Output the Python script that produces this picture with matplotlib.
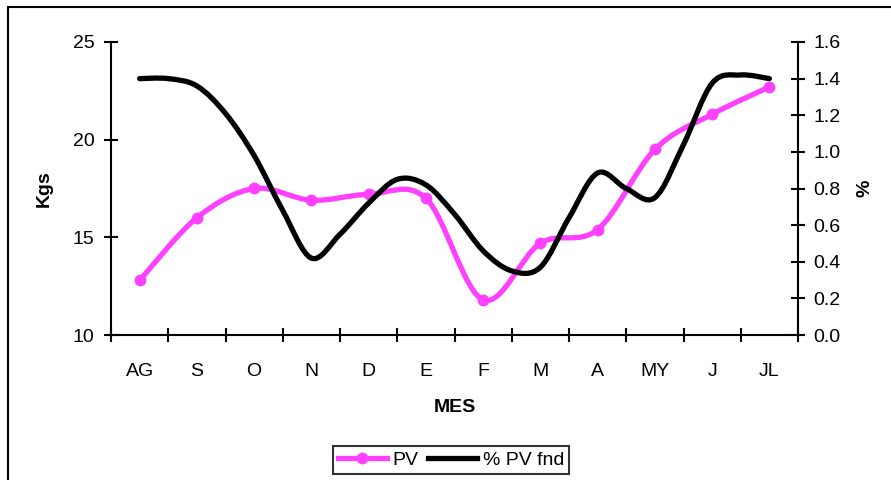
import numpy as np
import matplotlib
matplotlib.use("Agg")
import matplotlib.pyplot as plt
from matplotlib.path import Path
from matplotlib.patches import PathPatch, Rectangle
from matplotlib.lines import Line2D

plt.rcParams["font.family"] = ["Liberation Sans", "DejaVu Sans"]

# Datos
meses = ["AG", "S", "O", "N", "D", "E", "F", "M", "A", "MY", "J", "JL"]
pv_kgs = [12.8, 16.0, 17.5, 16.9, 17.2, 17.0, 11.8, 14.7, 15.4, 19.5, 21.3, 22.7]
# % PV fnd, dos lecturas por mes (quincenal)
pct_pv_fnd = [1.40, 1.40, 1.36, 1.21, 0.98, 0.68, 0.42, 0.55, 0.72, 0.85, 0.82,
              0.66, 0.46, 0.35, 0.37, 0.64, 0.885, 0.80, 0.75, 1.04, 1.375, 1.42, 1.40]


def smooth_path(x, y):
    # curva suavizada tipo Excel (Bezier cubica tipo Catmull-Rom)
    pts = np.column_stack([x, y]).astype(float)
    n = len(pts)
    verts = [pts[0]]
    codes = [Path.MOVETO]
    for i in range(n - 1):
        p0 = pts[i - 1] if i > 0 else pts[i]
        p1 = pts[i]
        p2 = pts[i + 1]
        p3 = pts[i + 2] if i + 2 < n else pts[i + 1]
        c1 = p1 + (p2 - p0) / 6.0
        c2 = p2 - (p3 - p1) / 6.0
        verts += [c1, c2, p2]
        codes += [Path.CURVE4] * 3
    return Path(verts, codes)


magenta = "#ff40ff"
fs = 14

fig = plt.figure(figsize=(8.91, 4.80), dpi=100)
ax = fig.add_axes([111 / 891, 1 - 335 / 480, 687 / 891, 293 / 480])
ax2 = ax.twinx()

# marco exterior del grafico
fig.patches.append(Rectangle((8 / 891, -0.05), 1.0, 1 - 7 / 480 + 0.05,
                             transform=fig.transFigure, fill=False,
                             edgecolor="black", linewidth=1.5))

x_pv = np.arange(len(pv_kgs))
ax.add_patch(PathPatch(smooth_path(x_pv, pv_kgs), facecolor="none",
                       edgecolor=magenta, linewidth=3.8, capstyle="round",
                       joinstyle="round", zorder=2))
ax.plot(x_pv, pv_kgs, linestyle="none", marker="o", markersize=7.5,
        color=magenta, zorder=3)

x_pct = np.arange(len(pct_pv_fnd)) / 2.0
ax2.add_patch(PathPatch(smooth_path(x_pct, pct_pv_fnd), facecolor="none",
                        edgecolor="black", linewidth=3.8, capstyle="round",
                        joinstyle="round", zorder=4))

ax.set_xlim(-0.5, len(meses) - 0.5)
ax.set_ylim(10, 25)
ax2.set_ylim(0, 1.6)
ax.set_yticks([10, 15, 20, 25])
ax2.set_yticks(np.arange(0, 1.61, 0.2))
ax2.set_yticklabels([f"{v:.1f}" for v in np.arange(0, 1.61, 0.2)])

ax.set_xticks(np.arange(-0.5, len(meses), 1.0))
ax.set_xticklabels([])
ax.set_xticks(np.arange(len(meses)), minor=True)
ax.set_xticklabels(meses, minor=True)

for a in (ax, ax2):
    a.spines["top"].set_visible(False)
    for s in a.spines.values():
        s.set_linewidth(1.5)
ax.spines["right"].set_visible(False)
ax2.spines["left"].set_visible(False)
ax2.spines["bottom"].set_visible(False)

ax.tick_params(axis="x", which="major", direction="inout", length=10, width=1.5)
ax.tick_params(axis="x", which="minor", length=0, pad=20, labelsize=fs)
ax.tick_params(axis="y", direction="inout", length=10, width=1.5, pad=7, labelsize=fs)
ax2.tick_params(axis="y", direction="inout", length=10, width=1.5, pad=6, labelsize=fs)

ax.set_ylabel("Kgs", fontsize=fs, fontweight="bold")
ax.yaxis.set_label_coords((53 - 111) / 687, 0.5)
ax2.set_ylabel("%", fontsize=fs, fontweight="bold")
ax2.yaxis.set_label_coords((857 - 111) / 687, 0.5)
ax.set_xlabel("MES", fontsize=fs, fontweight="bold")
ax.xaxis.set_label_coords(0.5, (335 - 399) / 293)

handles = [
    Line2D([], [], color=magenta, linewidth=3.8, marker="o", markersize=7.5),
    Line2D([], [], color="black", linewidth=3.8),
]
leg = fig.legend(handles, ["PV", "% PV fnd"], loc="center", ncol=2,
                 bbox_to_anchor=(451 / 891, 1 - 460 / 480), fontsize=fs,
                 frameon=True, fancybox=False, edgecolor="black",
                 handlelength=2.5, handletextpad=0.3, columnspacing=0.5,
                 borderpad=0.25, borderaxespad=0)
leg.get_frame().set_linewidth(1.5)

fig.savefig("out.png", dpi=100)
